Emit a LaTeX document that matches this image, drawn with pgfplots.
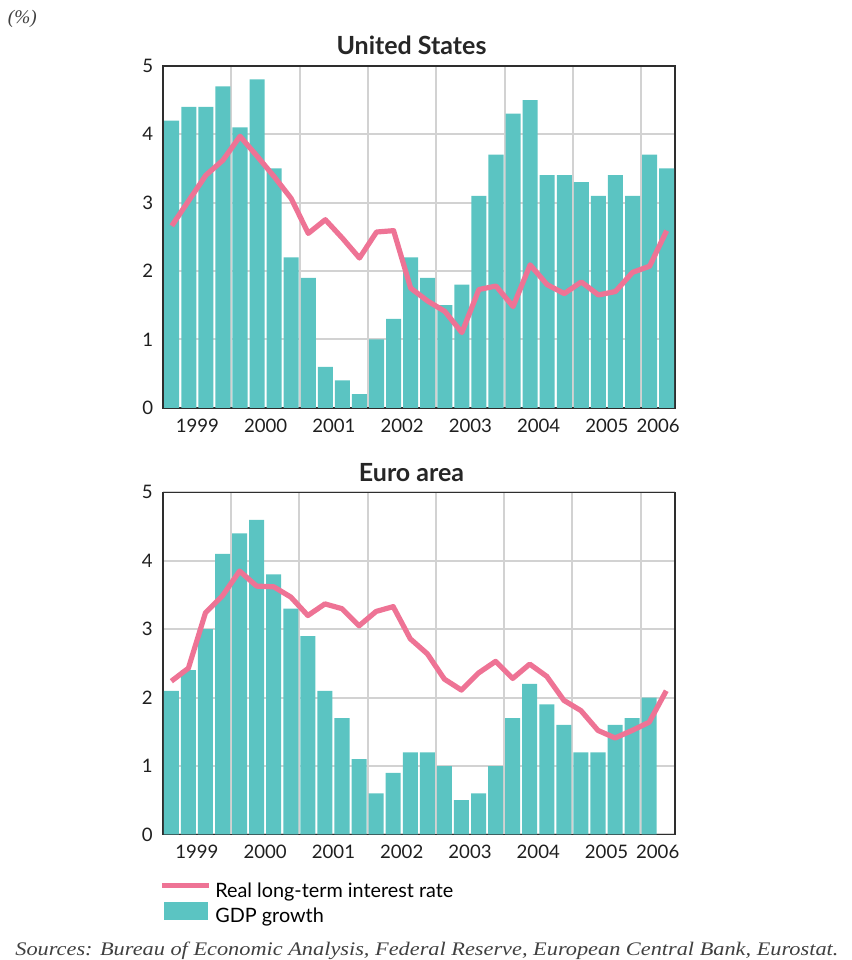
\documentclass[border=0pt]{standalone}
\usepackage{pgfplots}
\pgfplotsset{compat=1.18}
\usepackage{pgfplotstable}
\usepackage{graphicx}
\usepackage{fontspec}
\setmainfont{Lato}
\newfontfamily\notefont{Liberation Serif}

\definecolor{gdpteal}{HTML}{5BC4C2}
\definecolor{ratepink}{HTML}{EE7395}
\definecolor{gridgrey}{HTML}{D2D2D2}
\definecolor{framegrey}{HTML}{2E2E2E}

% Quarterly data, 1999Q1-2006Q2; x = quarter index + 0.5 (bar centre)
\pgfplotstableread{
q    usgdp usrate eugdp eurate
0.5  4.2   2.66   2.1   2.24
1.5  4.4   3.03   2.4   2.43
2.5  4.4   3.40   3.0   3.24
3.5  4.7   3.62   4.1   3.49
4.5  4.1   3.97   4.4   3.85
5.5  4.8   3.68   4.6   3.63
6.5  3.5   3.38   3.8   3.62
7.5  2.2   3.06   3.3   3.47
8.5  1.9   2.55   2.9   3.20
9.5  0.6   2.75   2.1   3.37
10.5 0.4   2.48   1.7   3.30
11.5 0.2   2.19   1.1   3.05
12.5 1.0   2.57   0.6   3.26
13.5 1.3   2.59   0.9   3.33
14.5 2.2   1.75   1.2   2.86
15.5 1.9   1.56   1.2   2.64
16.5 1.5   1.41   1.0   2.27
17.5 1.8   1.10   0.5   2.11
18.5 3.1   1.73   0.6   2.36
19.5 3.7   1.78   1.0   2.53
20.5 4.3   1.48   1.7   2.28
21.5 4.5   2.09   2.2   2.49
22.5 3.4   1.80   1.9   2.31
23.5 3.4   1.67   1.6   1.96
24.5 3.3   1.84   1.2   1.81
25.5 3.1   1.65   1.2   1.52
26.5 3.4   1.70   1.6   1.41
27.5 3.1   1.98   1.7   1.52
28.5 3.7   2.07   2.0   1.64
29.5 3.5   2.59   nan   2.10
}\quarterly

\pgfplotsset{
  panel/.style={
    scale only axis, width=256pt, height=171pt,
    xmin=0, xmax=30, ymin=0, ymax=5,
    ytick={0,...,5},
    xtick={2,6,10,14,18,22,26,29},
    xticklabels={1999,2000,2001,2002,2003,2004,2005,2006},
    minor xtick={4,8,...,28},
    xmajorgrids=false, xminorgrids=true, ymajorgrids=true,
    grid style={gridgrey, line width=1pt},
    minor grid style={gridgrey, line width=1pt},
    major tick length=0pt, minor tick length=0pt,
    axis line style={framegrey, line width=0.8pt},
    tick label style={font=\fontsize{9.3}{11}\selectfont, text=black!88},
    xticklabel style={yshift=-2pt},
    yticklabel style={xshift=-1.5pt},
    /pgf/number format/assume math mode=true,
  },
  gdpbar/.style={ybar, bar width=0.88, bar shift=0pt, fill=gdpteal, draw=none},
  rateline/.style={ratepink, line width=2.6pt, line join=round},
  ratekey/.style={legend image code/.code={\draw[##1] (0pt,3.5pt) -- (23.5pt,3.5pt);}},
  gdpkey/.style={legend image code/.code={\fill[##1] (1.2pt,-1.0pt) rectangle (22.9pt,7.8pt);}},
}

\begin{document}
\begin{tikzpicture}
\path[use as bounding box] (0,0) rectangle (426pt,-480pt);

\node[anchor=base west, inner sep=0pt, font=\notefont\itshape\fontsize{9.6}{11}\selectfont, text=black!75]
  at (3.8pt,-11.6pt) {(\%)};

\node[font=\bfseries\fontsize{12.5}{14}\selectfont, text=black!85] at (205.75pt,-22.5pt) {United States};
\begin{axis}[panel, at={(81.6pt,-32.9pt)}, anchor=north west]
  \addplot[gdpbar] table[x=q, y=usgdp] {\quarterly};
  \addplot[rateline] table[x=q, y=usrate] {\quarterly};
\end{axis}

\node[font=\bfseries\fontsize{12.5}{14}\selectfont, text=black!85] at (205.75pt,-236.3pt) {Euro area};
\begin{axis}[panel, at={(81.4pt,-246.2pt)}, anchor=north west,
  legend style={at={(0,0)}, anchor=north west, xshift=-2pt, yshift=-24.2pt,
    draw=none, fill=none, inner sep=0pt, row sep=0pt, column sep=2pt,
    font=\fontsize{9.9}{11}\selectfont,
    nodes={inner sep=0pt, text height=7.1pt, text depth=2.4pt}},
  legend cell align=left]
  \addlegendimage{ratepink, line width=2.6pt, ratekey}
  \addlegendentry{Real long-term interest rate}
  \addlegendimage{fill=gdpteal, draw=none, gdpkey}
  \addlegendentry{GDP growth}
  \addplot[gdpbar, forget plot] table[x=q, y=eugdp] {\quarterly};
  \addplot[rateline, forget plot] table[x=q, y=eurate] {\quarterly};
\end{axis}

\node[anchor=base west, inner sep=0pt, font=\notefont\itshape\fontsize{9.6}{11}\selectfont, text=black!75]
  at (7.5pt,-477.5pt)
  {\resizebox{411.5pt}{\height}{Sources: Bureau of Economic Analysis, Federal Reserve, European Central Bank, Eurostat.}};
\end{tikzpicture}
\end{document}
